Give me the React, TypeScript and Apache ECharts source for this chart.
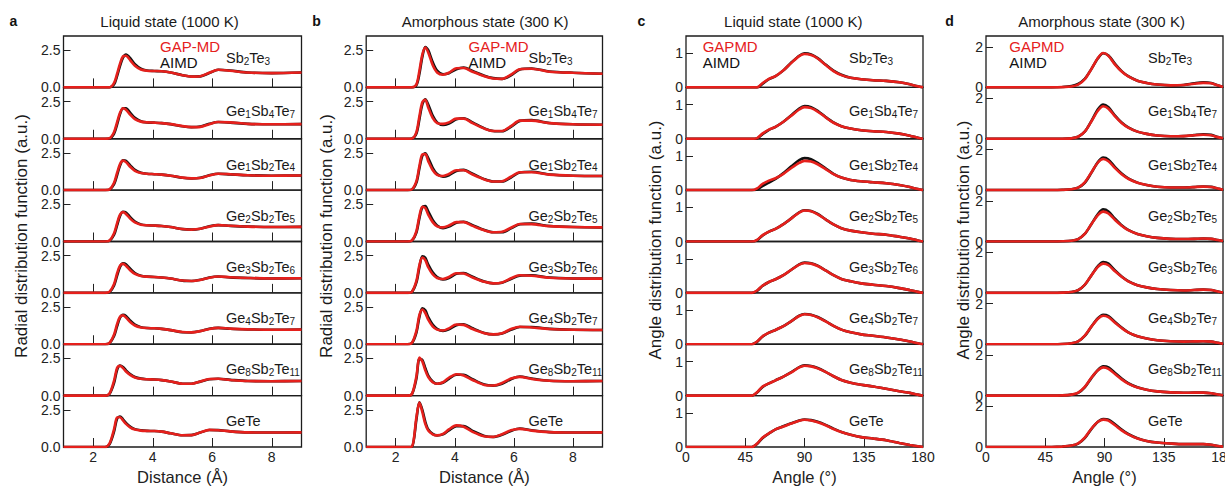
import React, { useEffect, useRef } from 'react';
import * as echarts from 'echarts';

const FONT = '"Liberation Sans", Arial, Helvetica, sans-serif';
const RED = '#e5201c';
const BLACK = '#111111';

const COMPOUNDS = ['Sb2Te3', 'Ge1Sb4Te7', 'Ge1Sb2Te4', 'Ge2Sb2Te5', 'Ge3Sb2Te6', 'Ge4Sb2Te7', 'Ge8Sb2Te11', 'GeTe'];

// ---- Radial distribution function: distance grid (Å)
const RDF_X = [1.0, 2.4, 2.55, 2.7, 2.8, 2.9, 3.0, 3.1, 3.25, 3.4, 3.6, 3.8, 4.05, 4.3, 4.6, 5.0, 5.3, 5.6, 5.9, 6.2, 6.6, 7.2, 8.0, 9.0];

const RDF_LIQ_GAP = [
  [0, 0, 0, 0.3, 0.9, 1.6, 2.08, 2.12, 1.8, 1.45, 1.2, 1.12, 1.1, 1.08, 1.0, 0.82, 0.72, 0.75, 0.98, 1.18, 1.12, 1.0, 0.96, 1.0],
  [0, 0, 0.03, 0.45, 1.1, 1.75, 2.05, 1.95, 1.6, 1.32, 1.15, 1.1, 1.08, 1.05, 0.98, 0.85, 0.78, 0.8, 0.98, 1.12, 1.1, 1.0, 0.97, 0.98],
  [0, 0, 0.05, 0.5, 1.15, 1.75, 1.98, 1.88, 1.55, 1.3, 1.15, 1.1, 1.07, 1.04, 0.97, 0.84, 0.79, 0.82, 0.98, 1.1, 1.07, 1.0, 0.97, 0.98],
  [0, 0, 0.07, 0.55, 1.22, 1.8, 1.97, 1.85, 1.52, 1.28, 1.13, 1.09, 1.07, 1.04, 0.97, 0.84, 0.8, 0.85, 1.0, 1.1, 1.06, 1.0, 0.97, 0.98],
  [0, 0, 0.08, 0.6, 1.3, 1.83, 1.95, 1.82, 1.5, 1.27, 1.13, 1.09, 1.07, 1.03, 0.96, 0.83, 0.8, 0.87, 1.02, 1.1, 1.05, 1.0, 0.97, 0.98],
  [0, 0, 0.1, 0.65, 1.35, 1.85, 1.94, 1.8, 1.48, 1.26, 1.13, 1.09, 1.07, 1.03, 0.95, 0.82, 0.8, 0.88, 1.03, 1.1, 1.05, 1.0, 0.97, 0.98],
  [0, 0, 0.15, 1.0, 1.85, 2.0, 1.85, 1.62, 1.38, 1.22, 1.13, 1.1, 1.08, 1.04, 0.95, 0.8, 0.8, 0.95, 1.12, 1.13, 1.05, 0.98, 0.97, 0.98],
  [0, 0, 0.25, 1.2, 1.98, 2.0, 1.78, 1.55, 1.3, 1.17, 1.1, 1.08, 1.07, 1.03, 0.92, 0.79, 0.8, 0.98, 1.15, 1.13, 1.05, 0.98, 0.97, 0.98],
];
const RDF_LIQ_AIMD = [
  [0, 0, 0, 0.2, 0.75, 1.45, 2.0, 2.2, 1.95, 1.55, 1.25, 1.13, 1.1, 1.08, 1.0, 0.82, 0.73, 0.74, 0.96, 1.18, 1.13, 1.0, 0.96, 1.0],
  [0, 0, 0.02, 0.35, 0.95, 1.65, 2.05, 2.05, 1.72, 1.4, 1.18, 1.1, 1.08, 1.05, 0.98, 0.84, 0.78, 0.82, 1.0, 1.12, 1.08, 1.0, 0.97, 0.98],
  [0, 0, 0.04, 0.4, 1.0, 1.65, 2.0, 1.97, 1.65, 1.36, 1.17, 1.1, 1.07, 1.04, 0.97, 0.83, 0.79, 0.83, 1.0, 1.1, 1.06, 1.0, 0.97, 0.98],
  [0, 0, 0.05, 0.45, 1.08, 1.72, 2.0, 1.95, 1.62, 1.34, 1.15, 1.09, 1.07, 1.04, 0.97, 0.83, 0.8, 0.86, 1.02, 1.1, 1.05, 1.0, 0.97, 0.98],
  [0, 0, 0.06, 0.5, 1.15, 1.75, 1.98, 1.92, 1.6, 1.33, 1.15, 1.09, 1.07, 1.03, 0.96, 0.82, 0.8, 0.88, 1.03, 1.1, 1.04, 1.0, 0.97, 0.98],
  [0, 0, 0.08, 0.55, 1.2, 1.78, 1.97, 1.9, 1.58, 1.32, 1.15, 1.09, 1.07, 1.03, 0.95, 0.81, 0.8, 0.89, 1.04, 1.1, 1.04, 1.0, 0.97, 0.98],
  [0, 0, 0.12, 0.85, 1.72, 2.02, 1.92, 1.7, 1.43, 1.25, 1.14, 1.1, 1.08, 1.04, 0.95, 0.8, 0.8, 0.94, 1.1, 1.13, 1.06, 0.98, 0.97, 0.98],
  [0, 0, 0.2, 1.05, 1.9, 2.05, 1.86, 1.62, 1.35, 1.2, 1.12, 1.08, 1.07, 1.03, 0.92, 0.79, 0.8, 0.97, 1.14, 1.13, 1.05, 0.98, 0.97, 0.98],
];
const RDF_AMO_GAP = [
  [0, 0, 0, 0.2, 1.1, 2.2, 2.68, 2.35, 1.5, 1.0, 0.85, 0.98, 1.28, 1.3, 1.05, 0.75, 0.6, 0.57, 0.85, 1.22, 1.25, 1.05, 0.98, 0.92],
  [0, 0, 0.02, 0.45, 1.5, 2.45, 2.62, 2.1, 1.4, 1.05, 1.0, 1.1, 1.35, 1.35, 1.05, 0.68, 0.52, 0.52, 0.85, 1.22, 1.22, 1.05, 0.97, 0.94],
  [0, 0, 0.05, 0.6, 1.6, 2.4, 2.42, 1.95, 1.35, 1.02, 0.95, 1.08, 1.33, 1.33, 1.05, 0.72, 0.58, 0.6, 0.9, 1.2, 1.2, 1.04, 0.97, 0.95],
  [0, 0, 0.07, 0.7, 1.7, 2.33, 2.25, 1.8, 1.3, 1.02, 0.95, 1.07, 1.3, 1.3, 1.05, 0.75, 0.62, 0.65, 0.92, 1.18, 1.17, 1.03, 0.97, 0.95],
  [0, 0, 0.08, 0.8, 1.85, 2.38, 2.2, 1.72, 1.25, 1.0, 0.93, 1.07, 1.32, 1.3, 1.03, 0.74, 0.64, 0.7, 0.98, 1.18, 1.15, 1.02, 0.97, 0.96],
  [0, 0, 0.1, 0.9, 1.95, 2.33, 2.1, 1.65, 1.2, 0.98, 0.92, 1.07, 1.33, 1.3, 1.02, 0.74, 0.66, 0.74, 1.02, 1.18, 1.13, 1.02, 0.97, 0.96],
  [0, 0, 0.12, 1.3, 2.55, 2.3, 1.7, 1.25, 0.9, 0.8, 0.9, 1.2, 1.44, 1.35, 1.05, 0.72, 0.68, 0.85, 1.15, 1.26, 1.12, 1.0, 0.97, 0.98],
  [0, 0, 0.03, 2.0, 2.98, 2.35, 1.55, 1.1, 0.85, 0.78, 0.88, 1.18, 1.45, 1.36, 1.02, 0.72, 0.68, 0.86, 1.12, 1.22, 1.1, 1.0, 0.97, 0.98],
];
const RDF_AMO_AIMD = [
  [0, 0, 0, 0.15, 0.9, 2.05, 2.7, 2.5, 1.7, 1.12, 0.88, 0.95, 1.22, 1.33, 1.1, 0.78, 0.62, 0.57, 0.8, 1.2, 1.27, 1.07, 0.98, 0.92],
  [0, 0, 0.02, 0.35, 1.3, 2.3, 2.65, 2.3, 1.55, 1.1, 0.92, 1.02, 1.3, 1.38, 1.1, 0.7, 0.52, 0.5, 0.8, 1.2, 1.25, 1.06, 0.97, 0.94],
  [0, 0, 0.04, 0.5, 1.45, 2.3, 2.48, 2.15, 1.5, 1.08, 0.9, 1.0, 1.28, 1.36, 1.1, 0.74, 0.58, 0.58, 0.85, 1.18, 1.23, 1.05, 0.97, 0.95],
  [0, 0, 0.06, 0.6, 1.55, 2.3, 2.38, 2.02, 1.45, 1.08, 0.9, 1.0, 1.25, 1.33, 1.1, 0.77, 0.62, 0.62, 0.88, 1.16, 1.2, 1.04, 0.97, 0.95],
  [0, 0, 0.07, 0.7, 1.7, 2.45, 2.35, 1.9, 1.38, 1.06, 0.9, 1.0, 1.28, 1.33, 1.08, 0.76, 0.64, 0.68, 0.93, 1.16, 1.18, 1.03, 0.97, 0.96],
  [0, 0, 0.08, 0.78, 1.82, 2.42, 2.28, 1.82, 1.32, 1.04, 0.9, 1.0, 1.28, 1.34, 1.07, 0.76, 0.66, 0.72, 0.97, 1.16, 1.16, 1.03, 0.97, 0.96],
  [0, 0, 0.1, 1.15, 2.45, 2.4, 1.85, 1.35, 0.95, 0.8, 0.86, 1.13, 1.4, 1.4, 1.1, 0.74, 0.67, 0.8, 1.1, 1.28, 1.15, 1.0, 0.97, 0.98],
  [0, 0, 0.02, 1.85, 3.0, 2.5, 1.7, 1.18, 0.88, 0.78, 0.85, 1.12, 1.4, 1.4, 1.08, 0.74, 0.67, 0.82, 1.08, 1.24, 1.12, 1.0, 0.97, 0.98],
];

// ---- Angle distribution function, liquid: angle grid (°)
const ADF_LIQ_X = [0, 50, 54, 58, 63, 68, 74, 80, 86, 90, 95, 100, 106, 112, 118, 125, 133, 142, 152, 162, 170, 176, 180];
const ADF_LIQ_GAP = [
  [0, 0, 0, 0.12, 0.25, 0.33, 0.5, 0.72, 0.92, 0.98, 0.95, 0.85, 0.66, 0.48, 0.36, 0.28, 0.24, 0.21, 0.19, 0.15, 0.09, 0.03, 0],
  [0, 0, 0.02, 0.15, 0.27, 0.35, 0.5, 0.68, 0.86, 0.93, 0.9, 0.8, 0.63, 0.47, 0.37, 0.3, 0.25, 0.22, 0.2, 0.15, 0.09, 0.03, 0],
  [0, 0, 0.05, 0.18, 0.28, 0.35, 0.48, 0.65, 0.8, 0.86, 0.84, 0.76, 0.62, 0.47, 0.37, 0.3, 0.26, 0.23, 0.2, 0.15, 0.09, 0.03, 0],
  [0, 0, 0.05, 0.18, 0.29, 0.37, 0.51, 0.68, 0.85, 0.91, 0.89, 0.8, 0.65, 0.5, 0.39, 0.32, 0.27, 0.23, 0.2, 0.14, 0.09, 0.03, 0],
  [0, 0, 0.07, 0.21, 0.32, 0.4, 0.52, 0.68, 0.83, 0.88, 0.86, 0.79, 0.66, 0.52, 0.41, 0.34, 0.28, 0.24, 0.2, 0.14, 0.08, 0.03, 0],
  [0, 0, 0.08, 0.23, 0.34, 0.42, 0.53, 0.68, 0.83, 0.88, 0.86, 0.79, 0.67, 0.54, 0.43, 0.35, 0.29, 0.25, 0.2, 0.14, 0.08, 0.03, 0],
  [0, 0, 0.1, 0.26, 0.36, 0.45, 0.56, 0.68, 0.83, 0.88, 0.86, 0.8, 0.7, 0.57, 0.46, 0.38, 0.32, 0.27, 0.2, 0.13, 0.08, 0.03, 0],
  [0, 0, 0.1, 0.27, 0.4, 0.52, 0.6, 0.69, 0.77, 0.8, 0.78, 0.73, 0.64, 0.53, 0.44, 0.36, 0.29, 0.25, 0.2, 0.12, 0.06, 0.02, 0],
];
const ADF_LIQ_AIMD = [
  [0, 0, 0, 0.1, 0.24, 0.33, 0.5, 0.73, 0.93, 1.0, 0.97, 0.86, 0.67, 0.49, 0.37, 0.28, 0.24, 0.21, 0.19, 0.15, 0.09, 0.03, 0],
  [0, 0, 0.01, 0.13, 0.26, 0.35, 0.5, 0.69, 0.89, 0.96, 0.93, 0.82, 0.64, 0.48, 0.37, 0.3, 0.25, 0.22, 0.2, 0.15, 0.09, 0.03, 0],
  [0, 0, 0.02, 0.12, 0.22, 0.33, 0.5, 0.7, 0.88, 0.94, 0.91, 0.8, 0.64, 0.48, 0.37, 0.3, 0.26, 0.23, 0.2, 0.15, 0.09, 0.03, 0],
  [0, 0, 0.04, 0.17, 0.29, 0.37, 0.51, 0.68, 0.86, 0.92, 0.9, 0.81, 0.65, 0.5, 0.39, 0.32, 0.27, 0.23, 0.2, 0.14, 0.09, 0.03, 0],
  [0, 0, 0.06, 0.2, 0.32, 0.4, 0.52, 0.68, 0.84, 0.89, 0.87, 0.8, 0.66, 0.52, 0.41, 0.34, 0.28, 0.24, 0.2, 0.14, 0.08, 0.03, 0],
  [0, 0, 0.07, 0.22, 0.34, 0.42, 0.53, 0.68, 0.84, 0.89, 0.87, 0.8, 0.68, 0.54, 0.43, 0.35, 0.29, 0.25, 0.2, 0.14, 0.08, 0.03, 0],
  [0, 0, 0.09, 0.25, 0.36, 0.45, 0.56, 0.69, 0.84, 0.89, 0.87, 0.81, 0.7, 0.57, 0.46, 0.38, 0.32, 0.27, 0.2, 0.13, 0.08, 0.03, 0],
  [0, 0, 0.09, 0.26, 0.4, 0.52, 0.61, 0.7, 0.78, 0.81, 0.79, 0.74, 0.65, 0.54, 0.44, 0.36, 0.29, 0.25, 0.2, 0.12, 0.06, 0.02, 0],
];

// ---- Angle distribution function, amorphous: angle grid (°)
const ADF_AMO_X = [0, 50, 58, 65, 70, 75, 80, 85, 89, 93, 98, 103, 108, 115, 122, 130, 140, 150, 158, 165, 171, 176, 180];
const ADF_AMO_GAP = [
  [0, 0, 0.01, 0.04, 0.13, 0.4, 0.9, 1.45, 1.69, 1.55, 1.12, 0.78, 0.54, 0.33, 0.22, 0.14, 0.1, 0.12, 0.18, 0.22, 0.2, 0.1, 0.02],
  [0, 0, 0, 0.02, 0.1, 0.35, 0.85, 1.38, 1.6, 1.48, 1.1, 0.78, 0.55, 0.35, 0.24, 0.16, 0.12, 0.13, 0.17, 0.2, 0.17, 0.08, 0.02],
  [0, 0, 0.01, 0.04, 0.12, 0.38, 0.87, 1.36, 1.53, 1.42, 1.08, 0.78, 0.56, 0.36, 0.25, 0.17, 0.13, 0.13, 0.15, 0.17, 0.15, 0.08, 0.02],
  [0, 0, 0.01, 0.04, 0.12, 0.38, 0.85, 1.3, 1.47, 1.38, 1.06, 0.78, 0.56, 0.37, 0.26, 0.18, 0.13, 0.12, 0.13, 0.15, 0.13, 0.07, 0.02],
  [0, 0, 0.01, 0.04, 0.13, 0.4, 0.86, 1.28, 1.44, 1.36, 1.06, 0.79, 0.57, 0.38, 0.27, 0.19, 0.14, 0.12, 0.14, 0.16, 0.14, 0.07, 0.02],
  [0, 0, 0.01, 0.05, 0.14, 0.42, 0.87, 1.26, 1.4, 1.33, 1.06, 0.8, 0.58, 0.39, 0.28, 0.2, 0.15, 0.13, 0.14, 0.15, 0.13, 0.07, 0.02],
  [0, 0, 0.01, 0.05, 0.15, 0.43, 0.88, 1.25, 1.39, 1.32, 1.06, 0.8, 0.59, 0.4, 0.29, 0.21, 0.16, 0.14, 0.15, 0.15, 0.12, 0.06, 0.02],
  [0, 0, 0.02, 0.07, 0.18, 0.46, 0.9, 1.24, 1.35, 1.3, 1.07, 0.82, 0.62, 0.42, 0.3, 0.22, 0.17, 0.14, 0.14, 0.14, 0.11, 0.05, 0.02],
];
const ADF_AMO_AIMD = [
  [0, 0, 0.02, 0.07, 0.17, 0.42, 0.9, 1.43, 1.68, 1.57, 1.16, 0.8, 0.55, 0.33, 0.22, 0.14, 0.1, 0.12, 0.2, 0.25, 0.22, 0.1, 0.02],
  [0, 0, 0, 0.02, 0.1, 0.35, 0.87, 1.45, 1.69, 1.55, 1.14, 0.8, 0.56, 0.35, 0.24, 0.16, 0.12, 0.13, 0.18, 0.22, 0.19, 0.09, 0.02],
  [0, 0, 0.01, 0.04, 0.12, 0.36, 0.85, 1.38, 1.6, 1.5, 1.13, 0.82, 0.58, 0.37, 0.25, 0.17, 0.13, 0.13, 0.15, 0.18, 0.16, 0.08, 0.02],
  [0, 0, 0.01, 0.04, 0.12, 0.37, 0.85, 1.35, 1.58, 1.48, 1.12, 0.8, 0.57, 0.37, 0.26, 0.18, 0.13, 0.12, 0.13, 0.15, 0.13, 0.07, 0.02],
  [0, 0, 0.01, 0.04, 0.13, 0.39, 0.86, 1.32, 1.52, 1.44, 1.1, 0.81, 0.58, 0.38, 0.27, 0.19, 0.14, 0.12, 0.14, 0.16, 0.14, 0.07, 0.02],
  [0, 0, 0.01, 0.05, 0.14, 0.41, 0.86, 1.28, 1.45, 1.39, 1.1, 0.82, 0.59, 0.39, 0.28, 0.2, 0.15, 0.13, 0.14, 0.15, 0.13, 0.07, 0.02],
  [0, 0, 0.01, 0.05, 0.14, 0.41, 0.86, 1.26, 1.44, 1.39, 1.12, 0.84, 0.61, 0.41, 0.29, 0.21, 0.16, 0.14, 0.15, 0.15, 0.12, 0.06, 0.02],
  [0, 0, 0.02, 0.07, 0.17, 0.44, 0.88, 1.24, 1.38, 1.35, 1.12, 0.86, 0.64, 0.43, 0.3, 0.22, 0.17, 0.14, 0.14, 0.14, 0.11, 0.05, 0.02],
];

// ---- tick values
const RDF_X_TICKS = [2, 4, 6, 8];
const RDF_Y_TICKS = [0, 2.5];
const ADF_X_LABELS = [0, 45, 90, 135, 180];
const ADF_X_TICKS = [45, 90, 135];
const ADF_LIQ_Y_TICKS = [0, 1];
const ADF_AMO_Y_TICKS = [0, 2];

const TITLES = ['Liquid state (1000 K)', 'Amorphous state (300 K)', 'Liquid state (1000 K)', 'Amorphous state (300 K)'];
const LETTERS = ['a', 'b', 'c', 'd'];
const LEGEND_A = ['GAP-MD', 'AIMD'];
const LEGEND_B = ['GAPMD', 'AIMD'];

const PANELS = [
  { x: RDF_X, gap: RDF_LIQ_GAP, aimd: RDF_LIQ_AIMD, left: 63.5, right: 301.5, xmin: 1, xmax: 9, ymax: 3.45,
    yTicks: RDF_Y_TICKS, xTicks: RDF_X_TICKS, xLabels: RDF_X_TICKS, allTicks: true, dec: 1,
    xName: 'Distance (Å)', yName: 'Radial distribution function (a.u.)', yNameX: 21, yNameY: 236,
    titleX: 169.5, letterX: 13.5, legend: LEGEND_A, legendX: 160, compX: 226 },
  { x: RDF_X, gap: RDF_AMO_GAP, aimd: RDF_AMO_AIMD, left: 366.2, right: 602.5, xmin: 1, xmax: 9, ymax: 3.45,
    yTicks: RDF_Y_TICKS, xTicks: RDF_X_TICKS, xLabels: RDF_X_TICKS, allTicks: true, dec: 1,
    xName: 'Distance (Å)', yName: 'Radial distribution function (a.u.)', yNameX: 326, yNameY: 236,
    titleX: 485, letterX: 316.5, legend: LEGEND_A, legendX: 468.5, compX: 528.5 },
  { x: ADF_LIQ_X, gap: ADF_LIQ_GAP, aimd: ADF_LIQ_AIMD, left: 686, right: 923, xmin: 0, xmax: 180, ymax: 1.51,
    yTicks: ADF_LIQ_Y_TICKS, xTicks: ADF_X_TICKS, xLabels: ADF_X_LABELS, allTicks: false, dec: 0,
    xName: 'Angle (°)', yName: 'Angle distribution function (a.u.)', yNameX: 655, yNameY: 240,
    titleX: 793.3, letterX: 641.5, legend: LEGEND_B, legendX: 702.7, compX: 849 },
  { x: ADF_AMO_X, gap: ADF_AMO_GAP, aimd: ADF_AMO_AIMD, left: 986, right: 1223, xmin: 0, xmax: 180, ymax: 2.53,
    yTicks: ADF_AMO_Y_TICKS, xTicks: ADF_X_TICKS, xLabels: ADF_X_LABELS, allTicks: false, dec: 0,
    xName: 'Angle (°)', yName: 'Angle distribution function (a.u.)', yNameX: 963, yNameY: 240,
    titleX: 1101.5, letterX: 949.5, legend: LEGEND_B, legendX: 1009.3, compX: 1148 },
];

const TOP = 36;
const BOTTOM = 447;
const ROWS = 8;
const ROW_H = (BOTTOM - TOP) / ROWS;
const COMP_OFFSET = [22, 24, 26, 26, 25.5, 25.5, 25, 25];

function richName(name: string): string {
  const parts = name.match(/[A-Za-z]+|\d+/g) || [];
  return parts.map((p) => (/^\d+$/.test(p) ? `{s|${p}}` : `{n|${p}}`)).join('');
}

function buildOption() {
  const grid: any[] = [];
  const xAxis: any[] = [];
  const yAxis: any[] = [];
  const series: any[] = [];
  const graphic: any[] = [];

  PANELS.forEach((P, pi) => {
    for (let r = 0; r < ROWS; r++) {
      const idx = grid.length;
      const last = r === ROWS - 1;
      grid.push({
        left: P.left, top: TOP + r * ROW_H, width: P.right - P.left, height: ROW_H,
        show: true, borderColor: '#1c1c1c', borderWidth: 1.3, backgroundColor: 'transparent',
        containLabel: false, outerBoundsMode: 'none',
      });
      xAxis.push({
        type: 'value', gridIndex: idx, min: P.xmin, max: P.xmax,
        axisLine: { show: false },
        splitLine: { show: false },
        axisTick: {
          show: P.allTicks || last, inside: true, length: 9,
          customValues: P.xTicks, lineStyle: { color: '#222', width: 1 },
        },
        axisLabel: {
          show: last, customValues: P.xLabels, margin: 3, fontSize: 14,
          color: '#222', fontFamily: FONT, hideOverlap: false,
        },
        name: last ? P.xName : '',
        nameLocation: 'middle', nameGap: 21,
        nameTextStyle: { fontSize: 16.5, color: '#222', fontFamily: FONT },
      });
      yAxis.push({
        type: 'value', gridIndex: idx, min: 0, max: P.ymax,
        axisLine: { show: false },
        splitLine: { show: false },
        axisTick: { show: true, inside: true, length: 7, customValues: P.yTicks, lineStyle: { color: '#222', width: 1 } },
        axisLabel: {
          show: true, customValues: P.yTicks, margin: 3, fontSize: 14, color: '#222', fontFamily: FONT,
          formatter: (v: number) => v.toFixed(P.dec),
        },
      });
      const mk = (ys: number[]) => P.x.map((xv, i) => [xv, ys[i]]);
      series.push({
        type: 'line', name: 'AIMD', xAxisIndex: idx, yAxisIndex: idx, data: mk(P.aimd[r]),
        showSymbol: false, smooth: 0.3, lineStyle: { color: BLACK, width: 2.6 }, z: 2, silent: true,
      });
      series.push({
        type: 'line', name: 'GAP-MD', xAxisIndex: idx, yAxisIndex: idx, data: mk(P.gap[r]),
        showSymbol: false, smooth: 0.3, lineStyle: { color: RED, width: 2.6 }, z: 3, silent: true,
      });
      graphic.push({
        type: 'text', x: P.compX, y: TOP + r * ROW_H + COMP_OFFSET[r], z: 10,
        style: {
          text: richName(COMPOUNDS[r]), align: 'left', textAlign: 'left',
          verticalAlign: 'middle', textVerticalAlign: 'middle',
          rich: {
            n: { fontSize: 14.5, fontFamily: FONT, fill: '#1a1a1a', lineHeight: 16 },
            s: { fontSize: 10, fontFamily: FONT, fill: '#1a1a1a', lineHeight: 16, verticalAlign: 'bottom' },
          },
        },
      });
    }
    graphic.push({
      type: 'text', x: P.titleX, y: 21.5, z: 10,
      style: { text: TITLES[pi], fontSize: 15, fontFamily: FONT, fill: '#1a1a1a',
        align: 'center', textAlign: 'center', verticalAlign: 'middle', textVerticalAlign: 'middle' },
    });
    graphic.push({
      type: 'text', x: P.letterX, y: 21, z: 10,
      style: { text: LETTERS[pi], fontSize: 14, fontWeight: 'bold', fontFamily: FONT, fill: '#111',
        align: 'center', textAlign: 'center', verticalAlign: 'middle', textVerticalAlign: 'middle' },
    });
    graphic.push({
      type: 'text', x: P.yNameX, y: P.yNameY, rotation: Math.PI / 2, z: 10,
      style: { text: P.yName, fontSize: 17, fontFamily: FONT, fill: '#1a1a1a',
        align: 'center', textAlign: 'center', verticalAlign: 'middle', textVerticalAlign: 'middle' },
    });
    graphic.push({
      type: 'text', x: P.legendX, y: 46.5, z: 10,
      style: { text: P.legend[0], fontSize: 15, fontFamily: FONT, fill: RED,
        align: 'left', textAlign: 'left', verticalAlign: 'middle', textVerticalAlign: 'middle' },
    });
    graphic.push({
      type: 'text', x: P.legendX, y: 62.5, z: 10,
      style: { text: P.legend[1], fontSize: 15, fontFamily: FONT, fill: '#111',
        align: 'left', textAlign: 'left', verticalAlign: 'middle', textVerticalAlign: 'middle' },
    });
  });

  return {
    animation: false,
    backgroundColor: '#ffffff',
    textStyle: { fontFamily: FONT },
    grid, xAxis, yAxis, series, graphic,
  };
}

export default function App() {
  const ref = useRef<HTMLDivElement>(null);
  useEffect(() => {
    if (!ref.current) return;
    const chart = echarts.init(ref.current, undefined, { renderer: 'svg' });
    chart.setOption(buildOption() as any);
    return () => chart.dispose();
  }, []);
  return <div ref={ref} style={{ position: 'absolute', left: 0, top: 0, width: 1225, height: 486 }} />;
}
